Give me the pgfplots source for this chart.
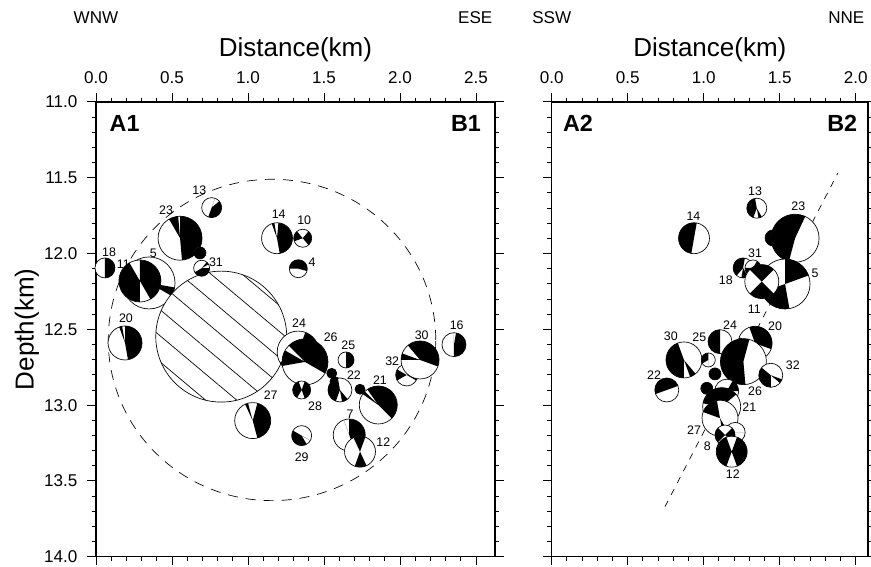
\documentclass[border=0pt]{standalone}
\usepackage{pgfplots}
\pgfplotsset{compat=1.18}
\usepackage{fontspec}
\setmainfont{Liberation Sans}
\usetikzlibrary{patterns.meta}

\pgfdeclareplotmark{ball}{%
  \pgfmathsetmacro\bbR{\brad}%
  \pgfmathsetmacro\bbA{\bang}%
  \pgfmathsetmacro\bbAe{\bang+\bwa+0.01}%
  \pgfmathsetmacro\bbB{\bang+180}%
  \pgfmathsetmacro\bbBe{\bang+180+\bwb+0.01}%
  \pgfsetlinewidth{0.5pt}%
  \pgfsetfillcolor{white}\pgfsetstrokecolor{black}%
  \pgfpathcircle{\pgfpointorigin}{\bbR pt}%
  \pgfusepath{fill}%
  \pgfsetfillcolor{black}%
  \pgfpathmoveto{\pgfpointorigin}%
  \pgfpathlineto{\pgfpointpolar{\bbA}{\bbR pt}}%
  \pgfpatharc{\bbA}{\bbAe}{\bbR pt}%
  \pgfpathclose
  \pgfpathmoveto{\pgfpointorigin}%
  \pgfpathlineto{\pgfpointpolar{\bbB}{\bbR pt}}%
  \pgfpatharc{\bbB}{\bbBe}{\bbR pt}%
  \pgfpathclose
  \pgfusepath{fill}%
  \pgfpathcircle{\pgfpointorigin}{\bbR pt}%
  \pgfusepath{stroke}%
}

\pgfplotsset{
  sec/.style={
    x=114pt, y=113.7pt, y dir=reverse,
    ymin=11, ymax=14, xmin=0,
    clip=false, clip marker paths=true,
    axis line style={line width=1.1pt},
    tick align=outside,
    xtick distance=0.5, ytick distance=0.5,
    minor x tick num=4, minor y tick num=4,
    major tick length=6.5pt, minor tick length=3.2pt,
    tick style={black, line width=0.7pt},
    xticklabel pos=upper, xtick pos=both, ytick pos=both,
    tick label style={font=\fontsize{12.8}{14}\selectfont},
    /pgf/number format/assume math mode=true,
    xticklabel style={yshift=4pt, /pgf/number format/.cd, fixed, fixed zerofill, precision=1},
    yticklabel style={xshift=-4pt, /pgf/number format/.cd, fixed, fixed zerofill, precision=1},
  },
  balls/.style={
    scatter, only marks, mark=ball,
    scatter/@pre marker code/.code={},
    scatter/@post marker code/.code={},
    visualization depends on={\thisrow{r} \as \brad},
    visualization depends on={\thisrow{a} \as \bang},
    visualization depends on={\thisrow{w1} \as \bwa},
    visualization depends on={\thisrow{w2} \as \bwb},
  },
  labs/.style={
    draw=none, nodes near coords, point meta=explicit symbolic,
    nodes near coords align={center},
    every node near coord/.style={anchor=center, inner sep=0pt, font=\fontsize{9.3}{10}\selectfont},
  },
}

\pgfplotstableread{
x y r a w1 w2
0.349 12.194 19.5 150 60 20
0.289 12.181 15.75 -60 150 150
}\leftA

\pgfplotstableread{
x y r a w1 w2
0.059 12.095 7.5 -90 180 0
0.191 12.590 12.75 -80 170 10
0.553 11.899 16.5 -85 175 25
0.684 11.996 4.5 0 180 180
0.695 12.097 6 -150 150 20
0.761 11.697 7.5 -110 150 0
1.191 11.899 11.6 -80 165 10
1.360 11.899 6.75 -50 100 70
1.331 12.100 6.75 -15 195 0
1.330 12.650 15.75 30 40 20
1.375 12.715 17.25 -30 165 40
1.551 12.790 3.75 0 180 180
1.572 12.845 3.75 0 180 180
1.737 12.895 3.75 0 180 180
1.645 12.702 6 -90 180 0
1.605 12.900 9 100 150 30
1.353 12.900 6.75 -70 140 130
1.857 12.999 14.25 -45 170 10
2.044 12.801 8.25 -30 50 60
2.132 12.702 14.25 -20 150 20
2.355 12.601 9 -90 170 0
1.031 13.102 13.5 -75 150 10
1.353 13.201 7.5 150 150 0
1.666 13.197 12 -70 160 0
1.737 13.307 11.6 70 45 45
}\leftB

\pgfplotstableread{
x y l
0.680 11.585 13
0.461 11.717 23
0.789 12.055 31
0.086 11.989 18
1.202 11.739 14
1.370 11.783 10
1.421 12.060 4
0.377 11.998 5
0.180 12.069 11
0.197 12.425 20
1.336 12.460 24
1.544 12.555 26
1.660 12.607 25
1.697 12.805 22
1.441 13.010 28
1.868 12.838 21
1.949 12.713 32
2.143 12.542 30
2.373 12.476 16
1.149 12.937 27
1.353 13.344 29
1.671 13.058 7
1.890 13.241 12
}\leftL

\pgfplotstableread{
x y r a w1 w2
0.936 11.899 11.6 80 180 0
1.349 11.701 7.5 100 150 20
1.456 11.897 6 0 180 180
1.601 11.899 18 65 190 0
1.259 12.095 7.5 80 150 40
1.324 12.095 6 0 60 60
1.535 12.201 18.75 20 70 80
1.382 12.185 12.75 45 90 90
0.870 12.702 13.5 110 160 20
1.030 12.702 5.25 90 120 0
1.107 12.581 9 90 180 0
1.338 12.592 12.75 -20 130 60
1.261 12.713 17.25 75 200 0
1.441 12.803 9 140 130 20
0.757 12.900 9 20 180 0
1.074 12.794 4.5 0 180 180
1.020 12.889 4.5 0 180 180
1.151 12.908 9 0 60 60
1.118 13.010 14.25 40 130 110
1.107 13.086 13.5 100 60 20
1.207 13.180 7.5 0 0 0
1.140 13.197 7.5 -45 90 90
1.184 13.307 11.6 -70 140 140
}\rightB

\pgfplotstableread{
x y l
1.338 11.592 13
0.932 11.757 14
1.622 11.691 23
1.338 11.998 31
1.145 12.174 18
1.732 12.130 5
1.333 12.367 11
1.469 12.478 20
1.173 12.471 24
0.971 12.555 25
0.783 12.548 30
1.338 12.911 26
1.586 12.735 32
0.673 12.801 22
1.300 13.014 21
0.936 13.164 27
1.024 13.274 8
1.191 13.454 12
}\rightL

\begin{document}
\begin{tikzpicture}
\begin{axis}[sec, name=L, xmax=2.625]
  \draw[line width=0.5pt, dash pattern=on 7.5pt off 6pt] (axis cs:1.158,12.57) ellipse [x radius=122.8pt, y radius=120.5pt];
  \addplot[balls] table[x=x,y=y] {\leftA};
  \draw[line width=0.5pt, preaction={fill=white}, pattern={Lines[angle=-40,distance=15pt,line width=0.5pt]}] (axis cs:0.824,12.548) circle [radius=49.1pt];
  \addplot[balls] table[x=x,y=y] {\leftB};
  \addplot[labs] table[x=x,y=y,meta=l] {\leftL};
  \coordinate (BL) at (axis cs:0,14);
  \node[anchor=base, font=\fontsize{12.8}{14}\selectfont] at ([yshift=58.5pt]axis cs:0,11) {WNW};
  \node[anchor=base east, font=\fontsize{12.8}{14}\selectfont] at ([xshift=1.5pt,yshift=58.5pt]axis cs:2.625,11) {ESE};
  \node[anchor=base, font=\fontsize{19.5}{21}\selectfont] at ([yshift=34pt]axis cs:1.3125,11) {Distance(km)};
  \node[anchor=base west, font=\fontsize{17.5}{19}\selectfont\bfseries] at ([xshift=6.75pt,yshift=-22.3pt]axis cs:0,11) {A1};
  \node[anchor=base east, font=\fontsize{17.5}{19}\selectfont\bfseries] at ([xshift=-7pt,yshift=-22.3pt]axis cs:2.625,11) {B1};
  \node[rotate=90, anchor=center, font=\fontsize{19.5}{21}\selectfont] at ([xshift=-51.75pt]axis cs:0,12.5) {Depth(km)};
\end{axis}
\begin{axis}[sec, at={(341.8pt,0pt)}, xmax=2.08, yticklabels={}]
  \addplot[line width=0.5pt, dash pattern=on 5pt off 5pt] coordinates {(0.745,13.670) (1.882,11.470)};
  \addplot[balls] table[x=x,y=y] {\rightB};
  \addplot[labs] table[x=x,y=y,meta=l] {\rightL};
  \node[anchor=base, font=\fontsize{12.8}{14}\selectfont] at ([yshift=58.5pt]axis cs:0,11) {SSW};
  \node[anchor=base east, font=\fontsize{12.8}{14}\selectfont] at ([xshift=238pt,yshift=58.5pt]axis cs:0,11) {NNE};
  \node[anchor=base, font=\fontsize{19.5}{21}\selectfont] at ([yshift=34pt]axis cs:1.04,11) {Distance(km)};
  \node[anchor=base west, font=\fontsize{17.5}{19}\selectfont\bfseries] at ([xshift=5pt,yshift=-22.3pt]axis cs:0,11) {A2};
  \node[anchor=base east, font=\fontsize{17.5}{19}\selectfont\bfseries] at ([xshift=-4.5pt,yshift=-22.3pt]axis cs:2.08,11) {B2};
\end{axis}
\pgfresetboundingbox
\path[use as bounding box] ([shift={(-72pt,-7.7pt)}]BL) rectangle ++(653.25pt,425.25pt);
\end{tikzpicture}
\end{document}
